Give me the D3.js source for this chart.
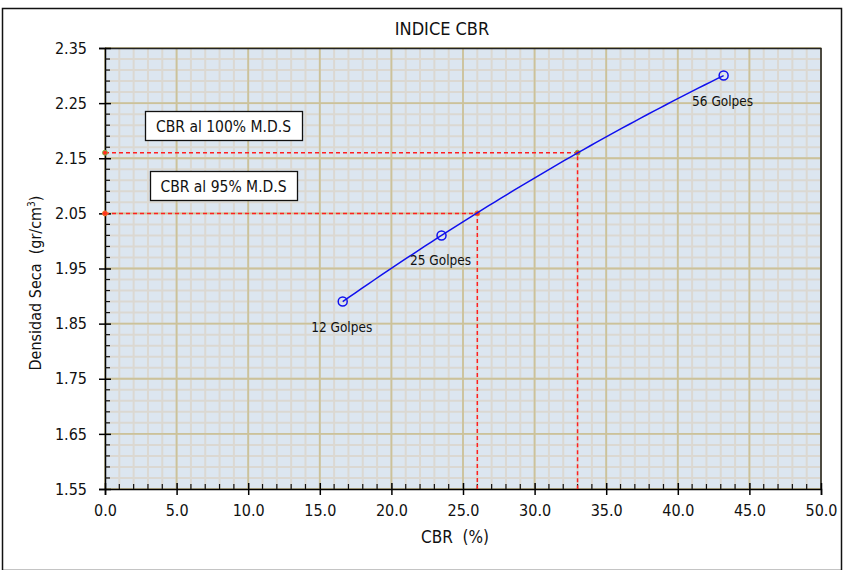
<!DOCTYPE html>
<html>
<head>
<meta charset="utf-8">
<script src="https://cdn.jsdelivr.net/npm/d3@7"></script>
<style>
  body { margin: 0; background: #fff; }
  #chart { width: 843px; height: 570px; }
  text { font-family: "DejaVu Sans Condensed", "DejaVu Sans", sans-serif; fill: #111; }
</style>
</head>
<body>
<div id="chart"></div>
<script>
// datos
const golpes = ["12 Golpes", "25 Golpes", "56 Golpes"];
const cbrValues = [16.6, 23.5, 43.2];
const densidadValues = [1.89, 2.01, 2.30];

const refLabels = ["CBR al 100% M.D.S", "CBR al 95% M.D.S"];
const refCbr = [33.0, 26.0];
const refDensidad = [2.16, 2.05];
const refColors = ["#7ab648", "#f07828"];

const xTicks = [0, 5, 10, 15, 20, 25, 30, 35, 40, 45, 50];
const yTicks = [1.55, 1.65, 1.75, 1.85, 1.95, 2.05, 2.15, 2.25, 2.35];

// curva de ajuste (polinomio de 2do grado por los tres puntos)
function fitQuadratic(xs, ys) {
    return function (v) {
        let s = 0;
        for (let i = 0; i < xs.length; i++) {
            let p = ys[i];
            for (let j = 0; j < xs.length; j++) {
                if (j !== i) p *= (v - xs[j]) / (xs[i] - xs[j]);
            }
            s += p;
        }
        return s;
    };
}

function drawChart() {
    const width = 843, height = 570;
    const margin = { top: 48, right: 22, bottom: 81, left: 105 };
    const innerW = width - margin.left - margin.right;
    const innerH = height - margin.top - margin.bottom;

    const svg = d3.select("#chart").append("svg")
        .attr("width", width)
        .attr("height", height);

    // marco exterior
    svg.append("rect")
        .attr("x", 2.5).attr("y", 8.5)
        .attr("width", width - 4).attr("height", height - 8)
        .attr("fill", "none").attr("stroke", "#111").attr("stroke-width", 1.5);

    svg.append("text")
        .attr("x", 442).attr("y", 35)
        .attr("text-anchor", "middle")
        .style("font-size", "18px")
        .text("INDICE CBR");

    const x = d3.scaleLinear().domain([0, 50]).range([0, innerW]);
    const y = d3.scaleLinear().domain([1.55, 2.35]).range([innerH, 0]);

    const g = svg.append("g").attr("transform", `translate(${margin.left},${margin.top})`);

    g.append("rect")
        .attr("width", innerW).attr("height", innerH)
        .attr("fill", "#dce6f0");

    const xMinor = d3.range(0, 50.001, 1);
    const yMinor = d3.range(0, 40.001, 1).map(i => 1.55 + i * 0.02);

    g.append("g").selectAll("line")
        .data(xMinor)
        .enter().append("line")
        .attr("x1", d => x(d)).attr("x2", d => x(d))
        .attr("y1", 0).attr("y2", innerH)
        .attr("stroke", "#dbd8d2").attr("stroke-width", 2);

    g.append("g").selectAll("line")
        .data(yMinor)
        .enter().append("line")
        .attr("y1", d => y(d)).attr("y2", d => y(d))
        .attr("x1", 0).attr("x2", innerW)
        .attr("stroke", "#dbd8d2").attr("stroke-width", 2);

    g.append("g").selectAll("line")
        .data(xTicks)
        .enter().append("line")
        .attr("x1", d => x(d)).attr("x2", d => x(d))
        .attr("y1", 0).attr("y2", innerH)
        .attr("stroke", "#cbc29a").attr("stroke-width", 1.8);

    g.append("g").selectAll("line")
        .data(yTicks)
        .enter().append("line")
        .attr("y1", d => y(d)).attr("y2", d => y(d))
        .attr("x1", 0).attr("x2", innerW)
        .attr("stroke", "#cbc29a").attr("stroke-width", 1.8);

    // borde superior y derecho del area
    g.append("path")
        .attr("d", `M0,0.5H${innerW}V${innerH}`)
        .attr("fill", "none").attr("stroke", "#222").attr("stroke-width", 1.5);

    // ejes
    const xAxis = g.append("g")
        .attr("transform", `translate(0,${innerH})`)
        .call(d3.axisBottom(x).tickValues(xTicks).tickFormat(d3.format(".1f")).tickSize(6).tickPadding(10));
    xAxis.selectAll(".tick line").attr("y1", -6).attr("stroke-width", 1.5);
    xAxis.select(".domain").attr("stroke-width", 1.5);
    xAxis.selectAll("text").style("font-size", "16px");
    xAxis.append("g").selectAll("line")
        .data(xMinor.filter(d => d % 5 !== 0))
        .enter().append("line")
        .attr("x1", d => x(d)).attr("x2", d => x(d))
        .attr("y1", 0).attr("y2", -5)
        .attr("stroke", "#111").attr("stroke-width", 1.2);

    const yAxis = g.append("g")
        .call(d3.axisLeft(y).tickValues(yTicks).tickFormat(d3.format(".2f")).tickSize(6).tickPadding(12));
    yAxis.selectAll(".tick line").attr("x1", 6).attr("stroke-width", 1.5);
    yAxis.select(".domain").attr("stroke-width", 1.5);
    yAxis.selectAll("text").style("font-size", "16px");
    yAxis.append("g").selectAll("line")
        .data(yMinor.filter((d, i) => i % 5 !== 0))
        .enter().append("line")
        .attr("y1", d => y(d)).attr("y2", d => y(d))
        .attr("x1", 0).attr("x2", 5)
        .attr("stroke", "#111").attr("stroke-width", 1.2);

    svg.append("text")
        .attr("x", 455).attr("y", 543)
        .attr("text-anchor", "middle")
        .style("font-size", "17px")
        .attr("xml:space", "preserve")
        .text("CBR  (%)");

    const yLabel = svg.append("text")
        .attr("transform", "translate(41,283) rotate(-90)")
        .attr("text-anchor", "middle")
        .style("font-size", "16px")
        .attr("xml:space", "preserve");
    yLabel.append("tspan").text("Densidad Seca  (gr/cm");
    yLabel.append("tspan").attr("dy", -6).style("font-size", "10px").text("3");
    yLabel.append("tspan").attr("dy", 6).text(")");

    // lineas de referencia
    refCbr.forEach((c, i) => {
        const d = refDensidad[i];
        g.append("path")
            .attr("d", `M${x(0)},${y(d)}H${x(c)}V${innerH}`)
            .attr("fill", "none")
            .attr("stroke", "#ff2020")
            .attr("stroke-width", 1.5)
            .attr("stroke-dasharray", "4,3");
        [[0, d], [c, d]].forEach(p => {
            g.append("circle")
                .attr("cx", x(p[0])).attr("cy", y(p[1]))
                .attr("r", 2.5)
                .attr("fill", "#ff3020")
                .attr("stroke", refColors[i]).attr("stroke-width", 1);
        });
    });

    // curva
    const pts = cbrValues.map((c, i) => [c, densidadValues[i]]);
    const fit = fitQuadratic(cbrValues, densidadValues);
    const [xMin, xMax] = d3.extent(cbrValues);
    const curvePts = d3.range(0, 61).map(i => {
        const v = xMin + (xMax - xMin) * i / 60;
        return [v, fit(v)];
    });
    const line = d3.line()
        .x(d => x(d[0])).y(d => y(d[1]));

    g.append("path")
        .datum(curvePts)
        .attr("d", line)
        .attr("fill", "none")
        .attr("stroke", "#1010ee")
        .attr("stroke-width", 1.5);

    g.selectAll(".pt")
        .data(pts)
        .enter().append("circle")
        .attr("class", "pt")
        .attr("cx", d => x(d[0])).attr("cy", d => y(d[1]))
        .attr("r", 4.5)
        .attr("fill", "none")
        .attr("stroke", "#1010ee")
        .attr("stroke-width", 1.5);

    g.selectAll(".golpe")
        .data(pts)
        .enter().append("text")
        .attr("class", "golpe")
        .attr("x", d => x(d[0]) - 1)
        .attr("y", d => y(d[1]) + 30)
        .attr("text-anchor", "middle")
        .style("font-size", "13.5px")
        .text((d, i) => golpes[i]);

    // cajas de texto
    const boxes = [
        { x: 145, y: 111, w: 157, h: 29 },
        { x: 150, y: 171, w: 147, h: 29 }
    ];
    refLabels.forEach((t, i) => {
        const b = boxes[i];
        svg.append("rect")
            .attr("x", b.x + 0.5).attr("y", b.y + 0.5)
            .attr("width", b.w).attr("height", b.h)
            .attr("fill", "#fff").attr("stroke", "#111").attr("stroke-width", 1.3);
        svg.append("text")
            .attr("x", b.x + b.w / 2).attr("y", b.y + b.h / 2 + 6)
            .attr("text-anchor", "middle")
            .style("font-size", "15.5px")
            .text(t);
    });
}

drawChart();
</script>
</body>
</html>
